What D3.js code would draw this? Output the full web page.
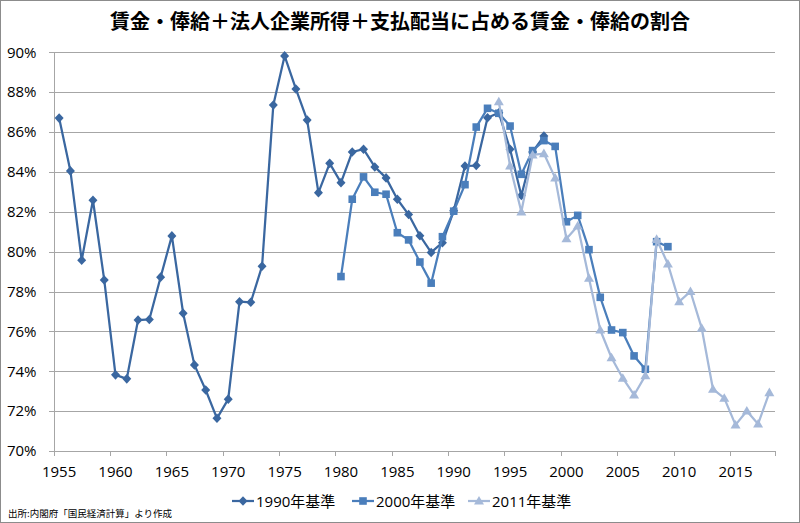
<!DOCTYPE HTML>
<html>
<head>
  <meta charset="utf-8">
  <style>
  body {
    margin: 0;
    background: #fff;
  }
  .grid line {
    stroke: #a6a6a6;
    stroke-width: 1;
  }
  .axis path, .axis line {
    stroke: #a6a6a6;
    shape-rendering: crispEdges;
  }
  .axis text {
    font-family: 'Open Sans', 'Noto Sans', sans-serif;
    font-size: 15px;
    fill: #000;
  }
  </style>
  <script src="https://cdn.jsdelivr.net/npm/d3@7/dist/d3.min.js"></script>
</head>
<body>
  <script type="text/javascript">
  // categories
  var years = d3.range(1955, 2019);
  var xTickLabels = [1955, 1960, 1965, 1970, 1975, 1980, 1985, 1990, 1995, 2000, 2005, 2010, 2015];
  var yTicks = [70, 72, 74, 76, 78, 80, 82, 84, 86, 88, 90];

  // series (% values), first year of each series
  var start1990 = 1955;
  var values1990 = [86.7, 84.05, 79.57, 82.58, 78.58, 73.82, 73.62, 76.57, 76.6, 78.72,
                    80.79, 76.91, 74.32, 73.06, 71.64, 72.6, 77.49, 77.46, 79.27, 87.36,
                    89.82, 88.16, 86.6, 82.96, 84.43, 83.46, 85.0, 85.14, 84.25, 83.7,
                    82.63, 81.86, 80.8, 79.96, 80.45, 82.05, 84.3, 84.32, 86.72, 86.97,
                    85.14, 82.82, 85.0, 85.8];
  var start2000 = 1980;
  var values2000 = [78.75, 82.63, 83.75, 82.98, 82.88, 80.95, 80.59, 79.48, 78.42, 80.75,
                    82.03, 83.36, 86.25, 87.19, 86.94, 86.3, 83.88, 85.07, 85.57, 85.28,
                    81.5, 81.82, 80.1, 77.71, 76.07, 75.94, 74.77, 74.1, 80.5, 80.25];
  var start2011 = 1994;
  var values2011 = [87.52, 84.3, 82.0, 84.85, 84.92, 83.7, 80.65, 81.29, 78.67, 76.07,
                    74.68, 73.65, 72.81, 73.78, 80.62, 79.38, 77.49, 78.0, 76.16, 73.1,
                    72.65, 71.31, 72.01, 71.36, 72.93];

  var seriesNames = ['1990年基準', '2000年基準', '2011年基準'];
  var seriesColors = ['#3a67a0', '#4a7ebb', '#a5b9d9'];
  var seriesMarkers = ['diamond', 'square', 'triangle'];

  var title = '賃金・俸給＋法人企業所得＋支払配当に占める賃金・俸給の割合';
  var source = '出所:内閣府「国民経済計算」より作成';

  function draw() {
    'use strict';
    var width = 800,
        height = 523,
        left = 53.5,
        right = 775,
        top = 52.3,
        bottom = 451;

    var svg = d3.select('body')
                .append('svg')
                .attr('width', width)
                .attr('height', height);

    svg.append('rect')
       .attr('x', 0.5).attr('y', 0.5)
       .attr('width', width - 1).attr('height', height - 1)
       .attr('fill', '#fff')
       .attr('stroke', '#8c8c8c');

    var x_scale = d3.scaleBand()
                    .domain(years)
                    .range([left, right])
                    .padding(0);
    var bw = x_scale.bandwidth();
    var cx = function(yr) { return x_scale(yr) + bw / 2; };

    var y_scale = d3.scaleLinear()
                    .domain([70, 90])
                    .range([bottom, top]);

    //gridlines
    svg.append('g')
       .attr('class', 'grid')
       .selectAll('line')
       .data(yTicks.slice(1))
       .enter()
       .append('line')
       .attr('x1', left)
       .attr('x2', right)
       .attr('y1', function(d) { return Math.round(y_scale(d)) + 0.5; })
       .attr('y2', function(d) { return Math.round(y_scale(d)) + 0.5; });

    //y axis
    var y_axis = d3.axisLeft(y_scale)
                   .tickValues(yTicks)
                   .tickSize(5)
                   .tickPadding(12)
                   .tickFormat(function(d) { return d + '%'; });
    svg.append('g')
       .attr('class', 'y axis')
       .attr('transform', 'translate(' + left + ',0)')
       .call(y_axis);

    //x axis: tick marks at category boundaries, labels on category centres
    var boundaryScale = d3.scaleLinear().domain([0, years.length]).range([left, right]);
    var boundaries = d3.range(0, years.length + 1, 5);
    var x_ticks = d3.axisBottom(boundaryScale)
                    .tickValues(boundaries)
                    .tickSize(5)
                    .tickFormat('');
    svg.append('g')
       .attr('class', 'x axis')
       .attr('transform', 'translate(0,' + bottom + ')')
       .call(x_ticks);

    svg.append('g')
       .attr('class', 'x axis')
       .selectAll('text')
       .data(xTickLabels)
       .enter()
       .append('text')
       .attr('x', function(d) { return cx(d); })
       .attr('y', 477)
       .attr('text-anchor', 'middle')
       .text(function(d) { return d; });

    //markers
    function markerPath(type) {
      if (type === 'diamond') return 'M0,-4.8L4.5,0L0,4.8L-4.5,0Z';
      if (type === 'square') return 'M-3.8,-3.8H3.8V3.8H-3.8Z';
      return 'M0,-5L5,3.6H-5Z';
    }

    var allSeries = [
      { start: start1990, values: values1990 },
      { start: start2000, values: values2000 },
      { start: start2011, values: values2011 }
    ];

    var line = d3.line()
                 .x(function(d) { return cx(d.year); })
                 .y(function(d) { return y_scale(d.value); });

    allSeries.forEach(function(s, i) {
      var pts = s.values.map(function(v, k) { return { year: s.start + k, value: v }; });
      var g = svg.append('g');
      g.append('path')
       .datum(pts)
       .attr('d', line)
       .attr('fill', 'none')
       .attr('stroke', seriesColors[i])
       .attr('stroke-width', 2.25)
       .attr('stroke-linejoin', 'round');
      g.selectAll('path.m')
       .data(pts)
       .enter()
       .append('path')
       .attr('class', 'm')
       .attr('d', markerPath(seriesMarkers[i]))
       .attr('transform', function(d) {
         return 'translate(' + cx(d.year) + ',' + y_scale(d.value) + ')';
       })
       .attr('fill', seriesColors[i]);
    });

    //title
    svg.append('text')
       .attr('x', 400)
       .attr('y', 29)
       .attr('text-anchor', 'middle')
       .style('font-family', "'Noto Sans CJK JP', sans-serif")
       .style('font-weight', 'bold')
       .style('font-size', '20px')
       .text(title);

    //legend
    var legendX = [232, 352, 468];
    var legend = svg.append('g');
    seriesNames.forEach(function(name, i) {
      var lg = legend.append('g').attr('transform', 'translate(' + legendX[i] + ',501)');
      lg.append('line')
        .attr('x1', 0).attr('x2', 22)
        .attr('stroke', seriesColors[i])
        .attr('stroke-width', 2.25);
      lg.append('path')
        .attr('d', markerPath(seriesMarkers[i]))
        .attr('transform', 'translate(11,0)')
        .attr('fill', seriesColors[i]);
      lg.append('text')
        .attr('x', 24)
        .attr('y', 5.5)
        .style('font-family', "'Open Sans', 'Noto Sans CJK JP', sans-serif")
        .style('font-size', '15px')
        .text(name);
    });

    //source note
    svg.append('text')
       .attr('x', 8)
       .attr('y', 517)
       .style('font-family', "'Noto Sans CJK JP', sans-serif")
       .style('font-size', '9.5px')
       .text(source);
  }
  draw();
  </script>
</body>
</html>
